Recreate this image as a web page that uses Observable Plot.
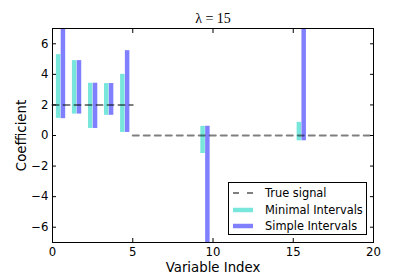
<!DOCTYPE html>
<html>
<head>
<meta charset="utf-8">
<script src="https://cdn.jsdelivr.net/npm/d3@7"></script>
<script src="https://cdn.jsdelivr.net/npm/@observablehq/plot@0.6"></script>
<style>
  html, body { margin: 0; padding: 0; background: #fff; }
  #wrap { position: relative; width: 415px; height: 277px; font-family: "DejaVu Sans", sans-serif; }
  #legend { position: absolute; left: 228px; top: 182px; width: 139px; height: 53px; border: 1px solid #000; background: #fff; box-sizing: border-box; }
  .row { position: absolute; left: 0; height: 16px; display: flex; align-items: center; font-size: 11.4px; color: #000; }
  .row svg { margin-left: 4px; margin-right: 12px; }
</style>
</head>
<body>
<div id="wrap"></div>
<script>
// Data
const variables = [0, 1, 2, 3, 4, 9, 15];
const minimalLow  = [1.12, 1.4, 0.46, 1.32, 0.2, -1.18, -0.35];
const minimalHigh = [5.29, 4.9, 3.42, 3.4, 4.0, 0.6, 0.86];
const simpleLow   = [1.1, 1.4, 0.46, 1.32, 0.2, -9.5, -0.35];
const simpleHigh  = [8.5, 4.9, 3.42, 3.4, 5.55, 0.6, 9.0];
const signalX = [0, 5, 5, 20];
const signalY = [2, 2, 0, 0];
const signalSeg = [0, 0, 1, 1];
const xTicks = [0, 5, 10, 15, 20];
const yTicks = [-6, -4, -2, 0, 2, 4, 6];
const minimalOffset = 0.35;
const simpleOffset = 0.65;

const minimal = variables.map((v, i) => ({x: v + minimalOffset, lo: minimalLow[i], hi: minimalHigh[i]}));
const simple = variables.map((v, i) => ({x: v + simpleOffset, lo: simpleLow[i], hi: simpleHigh[i]}));
const signal = signalX.map((x, i) => ({x, y: signalY[i], seg: signalSeg[i]}));

const cyan = "#79e6dc";
const blue = "#8080ff";

const chart = Plot.plot({
  width: 415,
  height: 277,
  marginLeft: 52,
  marginRight: 42,
  marginTop: 28,
  marginBottom: 35,
  style: {fontFamily: "DejaVu Sans, sans-serif", fontSize: "11.7px", background: "#fff", color: "#000"},
  x: {domain: [0, 20]},
  y: {domain: [-7, 7]},
  marks: [
    Plot.ruleX(minimal, {x: "x", y1: "lo", y2: "hi", stroke: cyan, strokeWidth: 4.5, clip: true}),
    Plot.ruleX(simple, {x: "x", y1: "lo", y2: "hi", stroke: blue, strokeWidth: 4.5, clip: true}),
    Plot.line(signal, {x: "x", y: "y", z: "seg", stroke: "#000", strokeOpacity: 0.5, strokeWidth: 2, strokeDasharray: "6,5"}),
    Plot.frame({stroke: "#000", strokeWidth: 1}),
    // inward tick marks on all sides
    Plot.axisX(xTicks, {anchor: "bottom", tickSize: -4, tickFormat: () => "", label: null}),
    Plot.axisX(xTicks, {anchor: "top", tickSize: -4, tickFormat: () => "", label: null}),
    Plot.axisY(yTicks, {anchor: "left", tickSize: -4, tickFormat: () => "", label: null}),
    Plot.axisY(yTicks, {anchor: "right", tickSize: -4, tickFormat: () => "", label: null}),
    // tick labels
    Plot.axisX(xTicks, {anchor: "bottom", tickSize: 0, tickPadding: 5, fontSize: 11.7, label: null}),
    Plot.axisY(yTicks, {anchor: "left", tickSize: 0, tickPadding: 4, fontSize: 11.7, label: null}),
    // axis titles
    Plot.text(["Variable Index"], {frameAnchor: "bottom", dy: 25, fontSize: 13.3, lineAnchor: "middle"}),
    Plot.text(["Coefficient"], {frameAnchor: "left", dx: -31, rotate: -90, fontSize: 13.3, textAnchor: "middle"}),
    Plot.text(["λ = 15"], {frameAnchor: "top", dy: -10, fontSize: 14, fontFamily: "Liberation Serif, serif", lineAnchor: "middle"})
  ]
});

const wrap = document.getElementById("wrap");
wrap.appendChild(chart);

// Legend
const legendItems = [
  {label: "True signal", type: "dash"},
  {label: "Minimal Intervals", type: "cyan"},
  {label: "Simple Intervals", type: "blue"}
];
const legend = document.createElement("div");
legend.id = "legend";
const rowTops = [2, 18.5, 35];
legendItems.forEach((it, i) => {
  const row = document.createElement("div");
  row.className = "row";
  row.style.top = rowTops[i] + "px";
  let sw;
  if (it.type === "dash") {
    sw = '<svg width="20" height="8"><line x1="0" y1="4" x2="20" y2="4" stroke="#000" stroke-opacity="0.5" stroke-width="2" stroke-dasharray="6,8"/></svg>';
  } else {
    sw = `<svg width="20" height="8"><line x1="0" y1="4" x2="20" y2="4" stroke="${it.type === "cyan" ? cyan : blue}" stroke-width="4.5"/></svg>`;
  }
  row.innerHTML = sw + "<span>" + it.label + "</span>";
  legend.appendChild(row);
});
wrap.appendChild(legend);
</script>
</body>
</html>
